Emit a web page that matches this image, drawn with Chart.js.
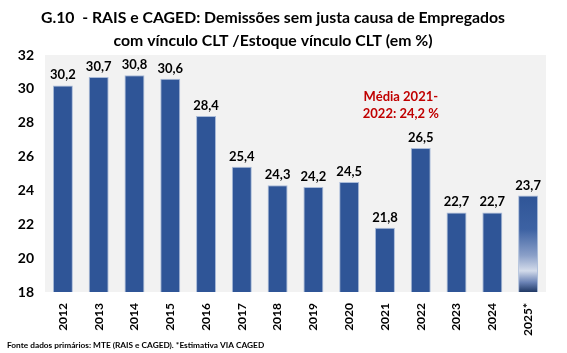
<!DOCTYPE html>
<html>
<head>
<meta charset="utf-8">
<script src="https://cdn.jsdelivr.net/npm/chart.js@4"></script>
<style>
    html, body { margin: 0; padding: 0; background: #fff; }
    #wrap { width: 567px; height: 353px; }
</style>
</head>
<body>
<div id="wrap"><canvas id="myChart"></canvas></div>
<script>
const years = ['2012', '2013', '2014', '2015', '2016', '2017', '2018', '2019', '2020', '2021', '2022', '2023', '2024', '2025*'];
const rates = [30.2, 30.7, 30.8, 30.6, 28.4, 25.4, 24.3, 24.2, 24.5, 21.8, 26.5, 22.7, 22.7, 23.7];
const yTicks = [18, 20, 22, 24, 26, 28, 30, 32];
const titleLines = ['G.10  - RAIS e CAGED: Demissões sem justa causa de Empregados', 'com vínculo CLT /Estoque vínculo CLT (em %)'];
const noteLines = ['Média 2021-', '2022: 24,2 %'];
const sourceText = 'Fonte dados primários: MTE (RAIS e CAGED). *Estimativa VIA CAGED';

const fontName = 'Lato, "Open Sans", sans-serif';

// fundo cinza da área do gráfico, rótulos, nota e fonte
const extras = {
    id: 'extras',
    beforeDraw(chart) {
        const { ctx, chartArea } = chart;
        ctx.save();
        ctx.fillStyle = '#f2f2f2';
        ctx.fillRect(chartArea.left, chartArea.top, chartArea.right - chartArea.left, chartArea.bottom - chartArea.top);
        ctx.restore();
    },
    afterDatasetsDraw(chart) {
        const { ctx } = chart;
        const meta = chart.getDatasetMeta(0);
        ctx.save();
        ctx.fillStyle = '#000';
        ctx.font = 'bold 13px ' + fontName;
        ctx.textAlign = 'center';
        ctx.textBaseline = 'alphabetic';
        meta.data.forEach((bar, i) => {
            ctx.fillText(rates[i].toFixed(1).replace('.', ','), bar.x, bar.y - 6);
        });

        const x21 = meta.data[9].x, x22 = meta.data[10].x;
        ctx.fillStyle = '#c00000';
        ctx.font = 'bold 13px ' + fontName;
        noteLines.forEach((t, i) => ctx.fillText(t, (x21 + x22) / 2 - 2, 101 + i * 17));

        ctx.fillStyle = '#000';
        ctx.font = 'bold 8.3px ' + fontName;
        ctx.textAlign = 'left';
        ctx.fillText(sourceText, 7, 348);
        ctx.restore();
    }
};

function lastBarColor(context) {
    const chart = context.chart;
    if (context.dataIndex !== rates.length - 1) return '#2f5597';
    if (!chart.chartArea) return '#2f5597';
    const y = chart.scales.y;
    const top = y.getPixelForValue(rates[context.dataIndex]);
    const bottom = y.getPixelForValue(yTicks[0]);
    const g = chart.ctx.createLinearGradient(0, top, 0, bottom);
    g.addColorStop(0, '#2f5597');
    g.addColorStop(0.35, '#3d62a3');
    g.addColorStop(0.62, '#8a9fc8');
    g.addColorStop(0.78, '#d3dbea');
    g.addColorStop(0.9, '#6a82b5');
    g.addColorStop(1, '#1f3864');
    return g;
}

new Chart(document.getElementById('myChart'), {
    type: 'bar',
    data: {
        labels: years,
        datasets: [{
            data: rates,
            backgroundColor: lastBarColor,
            borderColor: 'rgba(120, 150, 200, 0.6)',
            borderWidth: 1,
            barPercentage: 0.62,
            categoryPercentage: 0.9
        }]
    },
    options: {
        responsive: true,
        maintainAspectRatio: false,
        animation: false,
        layout: { padding: { left: 0, right: 21, top: 0, bottom: 0 } },
        plugins: {
            legend: { display: false },
            tooltip: { enabled: false },
            title: {
                display: true,
                text: titleLines,
                color: '#000',
                font: { family: fontName, size: 15.8, weight: 'bold', lineHeight: '23px' },
                padding: { top: 6, bottom: 3 }
            }
        },
        scales: {
            x: {
                grid: { display: false, drawTicks: false },
                border: { display: false },
                ticks: {
                    color: '#000',
                    font: { family: fontName, size: 12, weight: 'bold' },
                    minRotation: 90,
                    maxRotation: 90,
                    padding: 11
                },
                afterFit(scale) { scale.height = 353 - 292; }
            },
            y: {
                min: 18,
                max: 32,
                grid: { display: false, drawTicks: false },
                border: { display: false },
                afterBuildTicks(scale) { scale.ticks = yTicks.map(v => ({ value: v })); },
                ticks: {
                    color: '#000',
                    font: { family: fontName, size: 14, weight: 'bold' },
                    padding: 11
                },
                afterFit(scale) { scale.width = 45; }
            }
        }
    },
    plugins: [extras]
});
</script>
</body>
</html>
